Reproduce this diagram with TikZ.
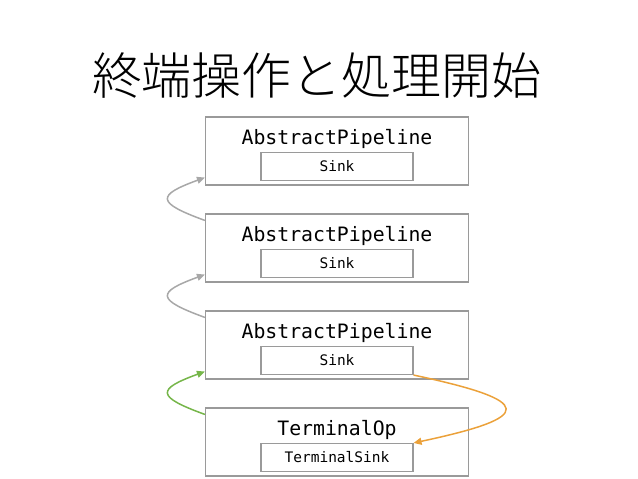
\documentclass[tikz,border=0pt]{standalone}
\usepackage{fontspec}
\setmonofont{DejaVu Sans Mono}
\newfontfamily\jpfont{Noto Sans CJK JP Light}
\usetikzlibrary{positioning, arrows.meta}
\definecolor{boxgray}{HTML}{9A9A9A}
\definecolor{backgray}{HTML}{A8A8A8}
\definecolor{termgreen}{HTML}{76B64A}
\definecolor{termorange}{HTML}{EBA13A}

\begin{document}
\begin{tikzpicture}
    [
        x=1pt, y=1pt, node distance=97pt and 20pt, on grid,
        pipe_node/.style={rectangle, draw=boxgray, line width=1.1pt, minimum width=263pt, minimum height=68pt, inner sep=0pt},
        sink_node/.style={rectangle, draw=boxgray, line width=1.1pt, minimum width=152pt, minimum height=28pt, inner sep=0pt, font=\ttfamily\fontsize{14.5}{16}\selectfont},
        name_text/.style={inner sep=0pt, font=\ttfamily\fontsize{19.8}{22}\selectfont},
        back_arrow/.style={-{Triangle[length=8pt, width=7pt]}, line width=1.5pt},
    ]
        \useasboundingbox (0,0) rectangle (638,-479) ;
        \node[font=\jpfont\fontsize{50}{54}\selectfont] (title) at (317,-76) {終端操作と処理開始} ;
        % pipeline stages
        \node[pipe_node] (p1) at (337,-151) {} ;
        \node[pipe_node] (p2) [below = of p1] {} ;
        \node[pipe_node] (p3) [below = of p2] {} ;
        \node[pipe_node] (op) [below = of p3] {} ;
        \node[name_text] (n1) [above = 12pt of p1] {AbstractPipeline} ;
        \node[name_text] (n2) [above = 12pt of p2] {AbstractPipeline} ;
        \node[name_text] (n3) [above = 12pt of p3] {AbstractPipeline} ;
        \node[name_text] (nop) [above = 12pt of op] {TerminalOp} ;
        \node[sink_node] (s1) [below = 15.5pt of p1] {Sink} ;
        \node[sink_node] (s2) [below = 15.5pt of p2] {Sink} ;
        \node[sink_node] (s3) [below = 15.5pt of p3] {Sink} ;
        \node[sink_node] (ts) [below = 15.5pt of op] {TerminalSink} ;
        % connectors
        \draw[back_arrow, color=backgray] ([yshift=-7pt]p2.north west) to[out=160, in=200, distance=52pt] ([yshift=8pt]p1.south west) ;
        \draw[back_arrow, color=backgray] ([yshift=-7pt]p3.north west) to[out=160, in=200, distance=52pt] ([yshift=8pt]p2.south west) ;
        \draw[back_arrow, color=termgreen] ([yshift=-7pt]op.north west) to[out=160, in=200, distance=52pt] ([yshift=8pt]p3.south west) ;
        \draw[back_arrow, color=termorange] (s3.south east) to[out=-12, in=12, distance=125pt] (ts.north east) ;
    \end{tikzpicture}
\end{document}
